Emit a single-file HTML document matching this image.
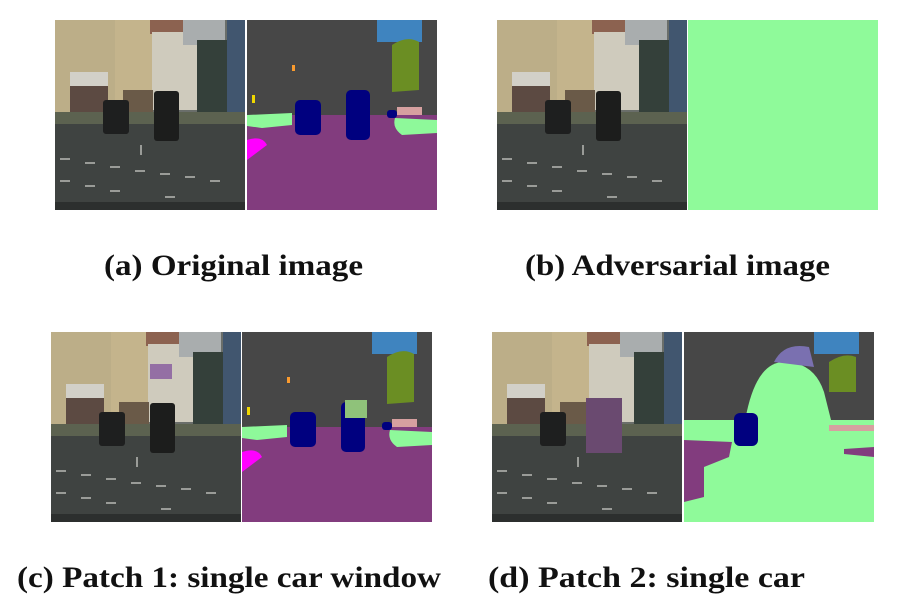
<!DOCTYPE html>
<html><head><meta charset="utf-8"><style>
html,body{margin:0;padding:0;background:#fff;}
svg{display:block;}
text{font-family:"Liberation Serif",serif;font-weight:bold;font-size:30px;fill:#111;}
</style></head><body>
<svg width="904" height="601" viewBox="0 0 904 601" xmlns="http://www.w3.org/2000/svg">
<defs>
<g id="photo">
  <rect width="190" height="190" fill="#404442"/>
  <rect x="0" y="0" width="190" height="100" fill="#6a6e6a"/>
  <rect x="0" y="0" width="97" height="100" fill="#bcae88"/>
  <rect x="60" y="0" width="37" height="95" fill="#c4b48c"/>
  <rect x="95" y="0" width="47" height="14" fill="#8c6250"/>
  <rect x="97" y="12" width="45" height="78" fill="#cfcbbd"/>
  <rect x="128" y="0" width="42" height="25" fill="#a9adae"/>
  <rect x="142" y="20" width="30" height="75" fill="#34403a"/>
  <rect x="172" y="0" width="18" height="95" fill="#41566f"/>
  <rect x="15" y="52" width="38" height="14" fill="#d2d0c8"/>
  <rect x="15" y="66" width="38" height="28" fill="#5c4a42"/>
  <rect x="68" y="70" width="30" height="25" fill="#6a5a48"/>
  <rect x="0" y="92" width="190" height="12" fill="#5c6250"/>
  <rect x="0" y="104" width="190" height="86" fill="#3f4341"/>
  <g fill="#9a9c98">
    <rect x="5" y="138" width="10" height="2"/><rect x="30" y="142" width="10" height="2"/><rect x="55" y="146" width="10" height="2"/><rect x="80" y="150" width="10" height="2"/><rect x="105" y="153" width="10" height="2"/><rect x="130" y="156" width="10" height="2"/><rect x="155" y="160" width="10" height="2"/>
    <rect x="5" y="160" width="10" height="2"/><rect x="30" y="165" width="10" height="2"/><rect x="55" y="170" width="10" height="2"/><rect x="110" y="176" width="10" height="2"/><rect x="150" y="182" width="12" height="2"/>
    <rect x="85" y="125" width="2" height="10"/>
  </g>
  <rect x="48" y="80" width="26" height="34" rx="3" fill="#1e1f1f"/>
  <rect x="99" y="71" width="25" height="50" rx="3" fill="#1c1d1c"/>
  <rect x="0" y="182" width="190" height="8" fill="#2c2f2e"/>
</g>
<g id="seg">
  <rect width="190" height="190" fill="#474747"/>
  <rect x="130" y="0" width="45" height="22" fill="#3f84bf"/>
  <rect x="0" y="95" width="190" height="95" fill="#823c7e"/>
  <path d="M145 25 Q160 15 172 22 L172 70 L145 72 Z" fill="#6b8e23"/>
  <path d="M0 95 L45 93 L45 105 L15 108 L0 106 Z" fill="#8ef99a"/>
  <path d="M148 98 L190 100 L190 113 L155 115 Q145 108 148 98 Z" fill="#8ef99a"/>
  <path d="M0 120 Q15 115 20 125 L0 140 Z" fill="#ff00ff"/>
  <rect x="48" y="80" width="26" height="35" rx="5" fill="#00007f"/>
  <rect x="99" y="70" width="24" height="50" rx="5" fill="#00007f"/>
  <rect x="140" y="90" width="10" height="8" rx="3" fill="#00007f"/>
  <rect x="150" y="87" width="25" height="8" fill="#d6a0a0"/>
  <rect x="5" y="75" width="3" height="8" fill="#f0d800"/>
  <rect x="45" y="45" width="3" height="6" fill="#fa9b2e"/>
</g>
</defs>
<use href="#photo" transform="translate(55,20)"/>
<use href="#seg" transform="translate(247,20)"/>
<use href="#photo" transform="translate(497,20)"/>
<rect x="688" y="20" width="190" height="190" fill="#8ffa9a"/>
<use href="#photo" transform="translate(51,332)"/>
<rect x="150" y="364" width="22" height="15" fill="#8a5fa0" opacity="0.85"/>
<use href="#seg" transform="translate(242,332)"/>
<rect x="345" y="400" width="22" height="18" fill="#8fc27a"/>
<use href="#photo" transform="translate(492,332)"/>
<rect x="586" y="398" width="36" height="55" fill="#6a4a70"/>
<g transform="translate(684,332)">
  <rect width="190" height="190" fill="#474747"/>
  <rect x="130" y="0" width="45" height="22" fill="#3f84bf"/>
  <rect x="0" y="88" width="190" height="102" fill="#8ffa9a"/>
  <path d="M60 95 Q70 30 100 30 Q130 30 140 60 L150 100 L60 100 Z" fill="#8ffa9a"/>
  <path d="M90 30 Q100 10 125 15 L130 35 Z" fill="#7a70b0"/>
  <path d="M145 30 Q160 20 172 25 L172 60 L145 60 Z" fill="#6b8e23"/>
  <path d="M0 108 L48 110 L45 125 L20 135 L20 165 L0 170 Z" fill="#823c7e"/>
  <path d="M160 117 L190 115 L190 125 L160 122 Z" fill="#823c7e"/>
  <rect x="50" y="81" width="24" height="33" rx="6" fill="#00007f"/>
  <rect x="145" y="93" width="45" height="6" fill="#d6a0a0"/>
</g>
<text x="104" y="275" textLength="259" lengthAdjust="spacingAndGlyphs">(a) Original image</text>
<text x="525" y="275" textLength="305" lengthAdjust="spacingAndGlyphs">(b) Adversarial image</text>
<text x="17" y="587" textLength="424" lengthAdjust="spacingAndGlyphs">(c) Patch 1: single car window</text>
<text x="488" y="587" textLength="317" lengthAdjust="spacingAndGlyphs">(d) Patch 2: single car</text>
</svg>
</body></html>
